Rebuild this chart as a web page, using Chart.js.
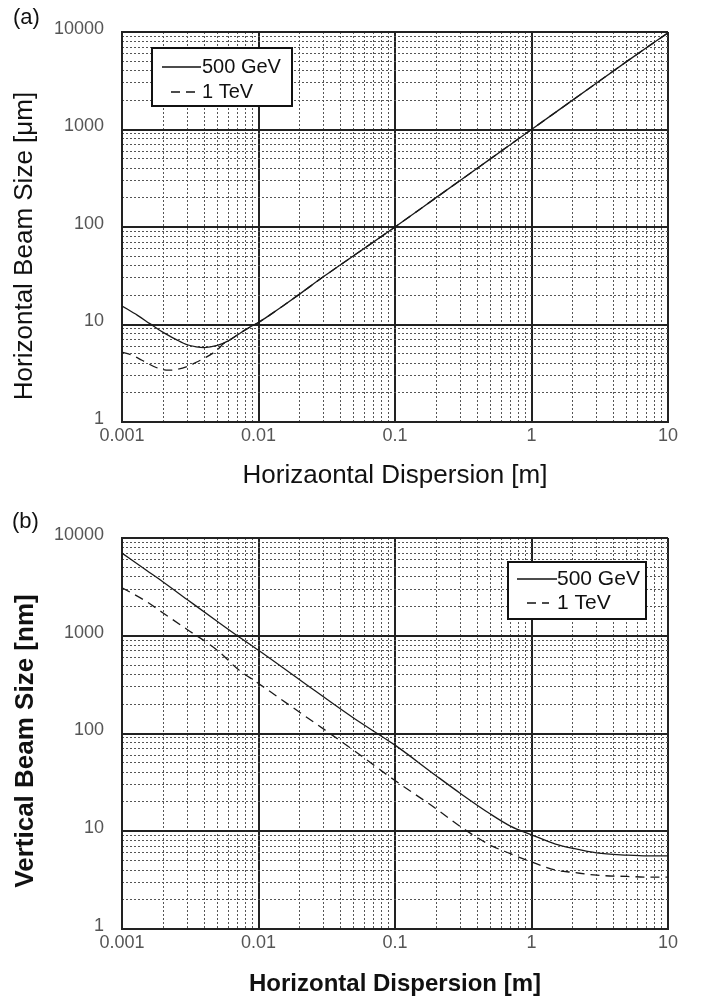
<!DOCTYPE html>
<html lang="en">
<head>
<meta charset="UTF-8">
<title>Beam Size vs Dispersion</title>
<script src="https://cdn.jsdelivr.net/npm/chart.js"></script>
<style>
    body { margin: 0; background: #fff; }
    canvas { position: absolute; left: 0; }
</style>
</head>
<body>
<canvas id="chartA" width="709" height="500" style="top:0"></canvas>
<canvas id="chartB" width="709" height="503" style="top:500px"></canvas>
<script>
    // (a) horizontal beam size [um] vs horizontal dispersion [m]
    const dispA500 = [0.001, 0.0013, 0.0016, 0.002, 0.0025, 0.003, 0.0035, 0.004, 0.005, 0.006, 0.007, 0.008, 0.009, 0.01, 0.012, 0.015, 0.02, 0.03, 0.05, 0.1, 0.2, 0.5, 1, 2, 5, 10];
    const sizeA500 = [15.5, 12.4, 10.2, 8.3, 7.0, 6.2, 5.9, 5.8, 6.1, 6.8, 7.8, 8.8, 9.7, 10.5, 12.4, 15.4, 20.5, 31, 51, 100, 200, 500, 1000, 2000, 5000, 9800];
    const dispA1T = [0.001, 0.0012, 0.0014, 0.0018, 0.0022, 0.0025, 0.003, 0.0035, 0.004, 0.005, 0.0055, 0.006, 0.007, 0.008, 0.009, 0.01, 0.012, 0.015, 0.02, 0.03, 0.05, 0.1, 0.2, 0.5, 1, 2, 5, 10];
    const sizeA1T = [5.2, 4.8, 4.3, 3.6, 3.4, 3.45, 3.7, 4.1, 4.5, 5.5, 6.3, 6.8, 7.8, 8.8, 9.7, 10.5, 12.4, 15.4, 20.5, 31, 51, 100, 200, 500, 1000, 2000, 5000, 9800];

    // (b) vertical beam size [nm] vs horizontal dispersion [m]
    const dispB = [0.001, 0.0015, 0.002, 0.003, 0.005, 0.007, 0.01, 0.02, 0.05, 0.1, 0.2, 0.3, 0.5, 0.7, 1, 1.5, 2, 3, 5, 7, 10];
    const sizeB500 = [7000, 4700, 3550, 2350, 1400, 1000, 710, 355, 143, 76, 37, 24.5, 15, 11.3, 9.2, 7.4, 6.7, 6.0, 5.7, 5.6, 5.6];
    const sizeB1T = [3100, 2250, 1710, 1160, 710, 460, 325, 165, 67, 33, 17, 11.2, 7.2, 5.9, 4.85, 4.0, 3.8, 3.55, 3.45, 3.4, 3.4];

    const xDecades = [0.001, 0.01, 0.1, 1, 10];
    const yDecades = [1, 10, 100, 1000, 10000];

    const FONT = "'Liberation Sans', Arial, sans-serif";

    function pts(xs, ys) {
        return xs.map((x, i) => ({x: x, y: ys[i]}));
    }

    // 2..9 inside each decade, for the dotted grid
    function minorOf(decades) {
        const out = [];
        decades.slice(0, -1).forEach(d => {
            for (let k = 2; k <= 9; k++) out.push(d * k);
        });
        return out;
    }

    // panel tag, rotated y title and the boxed legend inside the plot
    const panelDecor = {
        id: 'panelDecor',
        afterDraw(chart, args, o) {
            const ctx = chart.ctx;
            ctx.save();
            ctx.fillStyle = '#111';
            ctx.font = o.tagSize + 'px ' + FONT;
            ctx.textBaseline = 'alphabetic';
            ctx.fillText(o.tag, o.tagX, o.tagY);

            // y axis title, centred a little below the plot middle like the original
            ctx.save();
            ctx.translate(o.yTitleX, o.yTitleY);
            ctx.rotate(-Math.PI / 2);
            ctx.font = o.yTitleFont + ' ' + FONT;
            ctx.textAlign = 'center';
            ctx.textBaseline = 'middle';
            ctx.fillText(o.yTitle, 0, 0);
            ctx.restore();

            const b = o.box;
            ctx.fillStyle = '#fff';
            ctx.fillRect(b.x, b.y, b.w, b.h);
            ctx.lineWidth = 2;
            ctx.strokeStyle = '#111';
            ctx.strokeRect(b.x, b.y, b.w, b.h);

            ctx.font = o.legendSize + 'px ' + FONT;
            ctx.textBaseline = 'middle';
            chart.data.datasets.forEach((ds, i) => {
                const y = b.y + o.rowY[i];
                ctx.setLineDash(ds.borderDash || []);
                ctx.lineWidth = 1.3;
                ctx.beginPath();
                ctx.moveTo(b.x + o.sample[i][0], y);
                ctx.lineTo(b.x + o.sample[i][1], y);
                ctx.stroke();
                ctx.setLineDash([]);
                ctx.fillStyle = '#111';
                ctx.fillText(ds.label, b.x + o.textX, y);
            });
            ctx.restore();
        }
    };

    function buildChart(id, cfg) {
        const tickFont = {family: FONT, size: 18};
        const titleFont = {family: FONT, size: cfg.titleSize, weight: cfg.titleWeight};
        return new Chart(document.getElementById(id), {
            type: 'line',
            data: {
                datasets: [
                    {
                        label: '500 GeV',
                        data: pts(cfg.x500, cfg.y500),
                        borderColor: '#1a1a1a',
                        borderWidth: 1.3,
                        pointRadius: 0,
                        cubicInterpolationMode: 'monotone'
                    },
                    {
                        label: '1 TeV',
                        data: pts(cfg.x1T, cfg.y1T),
                        borderColor: '#1a1a1a',
                        borderWidth: 1.3,
                        borderDash: [9, 6],
                        pointRadius: 0,
                        cubicInterpolationMode: 'monotone'
                    }
                ]
            },
            options: {
                responsive: false,
                animation: false,
                layout: {padding: cfg.padding},
                plugins: {
                    legend: {display: false},
                    tooltip: {enabled: false},
                    panelDecor: cfg.decor
                },
                scales: {
                    x: {
                        type: 'logarithmic',
                        position: 'bottom',
                        min: 0.001,
                        max: 10,
                        afterBuildTicks: s => { s.ticks = xDecades.map(v => ({value: v})); },
                        afterFit: s => { s.height = cfg.xHeight; },
                        ticks: {
                            font: tickFont, color: '#555', padding: 3,
                            autoSkip: false, maxRotation: 0,
                            callback: v => String(v)
                        },
                        grid: {color: '#222', lineWidth: 2, drawTicks: false},
                        border: {color: '#222', width: 2},
                        title: {
                            display: true, text: cfg.xTitle, color: '#111',
                            font: titleFont, padding: {top: 4, bottom: 4}
                        }
                    },
                    x2: {
                        type: 'logarithmic',
                        position: 'bottom',
                        min: 0.001,
                        max: 10,
                        afterBuildTicks: s => { s.ticks = minorOf(xDecades).map(v => ({value: v})); },
                        afterFit: s => { s.height = 0; },
                        ticks: {display: false},
                        grid: {color: '#555', lineWidth: 1, drawTicks: false},
                        border: {display: false, dash: [2, 2]}
                    },
                    y: {
                        type: 'logarithmic',
                        position: 'left',
                        min: 1,
                        max: 10000,
                        afterBuildTicks: s => { s.ticks = yDecades.map(v => ({value: v})); },
                        afterFit: s => { s.width = 117; },
                        ticks: {
                            font: tickFont, color: '#555', padding: 18,
                            autoSkip: false, labelOffset: -3,
                            callback: v => String(v)
                        },
                        grid: {color: '#222', lineWidth: 2, drawTicks: false},
                        border: {color: '#222', width: 2},
                        title: {display: false}
                    },
                    y2: {
                        type: 'logarithmic',
                        position: 'left',
                        min: 1,
                        max: 10000,
                        afterBuildTicks: s => { s.ticks = minorOf(yDecades).map(v => ({value: v})); },
                        afterFit: s => { s.width = 0; },
                        ticks: {display: false},
                        grid: {color: '#555', lineWidth: 1, drawTicks: false},
                        border: {display: false, dash: [2, 2]}
                    }
                }
            },
            plugins: [panelDecor]
        });
    }

    buildChart('chartA', {
        x500: dispA500, y500: sizeA500,
        x1T: dispA1T, y1T: sizeA1T,
        xTitle: 'Horizaontal Dispersion [m]',
        titleSize: 26, titleWeight: 'normal',
        padding: {left: 5, right: 41, top: 32, bottom: 5},
        xHeight: 73,
        decor: {
            tag: '(a)', tagSize: 22, tagX: 13, tagY: 24,
            yTitle: 'Horizontal Beam Size [\u03bcm]', yTitleFont: 'normal 26px', yTitleX: 25, yTitleY: 246,
            box: {x: 152, y: 48, w: 140, h: 58},
            rowY: [19, 44], sample: [[10, 49], [19, 49]], textX: 50, legendSize: 20
        }
    });

    buildChart('chartB', {
        x500: dispB, y500: sizeB500,
        x1T: dispB, y1T: sizeB1T,
        xTitle: 'Horizontal Dispersion [m]',
        titleSize: 24, titleWeight: 'bold',
        padding: {left: 5, right: 41, top: 38, bottom: 0},
        xHeight: 74,
        decor: {
            tag: '(b)', tagSize: 22, tagX: 12, tagY: 28,
            yTitle: 'Vertical Beam Size [nm]', yTitleFont: 'bold 26px', yTitleX: 26, yTitleY: 241,
            box: {x: 508, y: 62, w: 138, h: 57},
            rowY: [17, 41], sample: [[9, 49], [19, 41]], textX: 49, legendSize: 21
        }
    });
</script>
</body>
</html>
